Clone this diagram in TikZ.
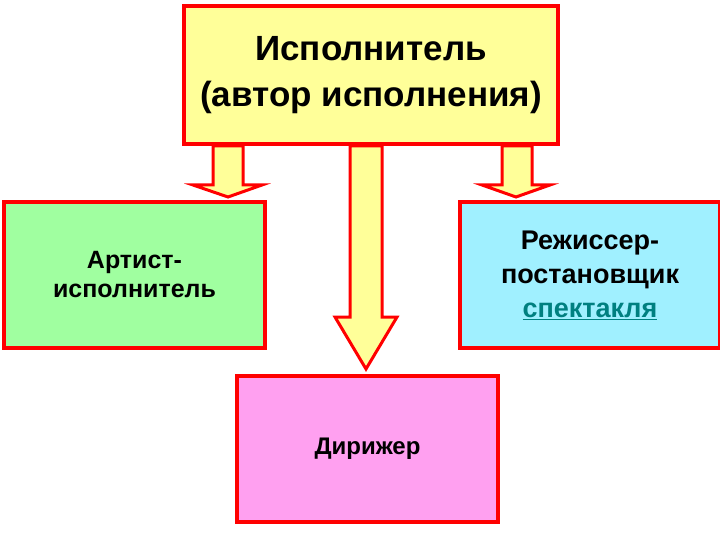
\documentclass[tikz,border=0pt]{standalone}
\usepackage{fontspec}
\setmainfont{Liberation Sans}
\begin{document}
\begin{tikzpicture}[x=1pt,y=-1pt,
  boxst/.style={draw=red,line width=4pt},
  arrst/.style={draw=red,line width=3pt,line join=miter}]
\useasboundingbox (0,0) rectangle (720,540);
\definecolor{cy}{HTML}{FFFF99}
\definecolor{cg}{HTML}{A0FFA0}
\definecolor{cb}{HTML}{A0F0FF}
\definecolor{cp}{HTML}{FFA0F0}
\definecolor{teal2}{HTML}{008080}
% arrows
\draw[arrst,fill=cy] (213,146) -- (243,146) -- (243,185) -- (262,185) -- (228,197) -- (193,185) -- (213,185) -- cycle;
\draw[arrst,fill=cy] (502,146) -- (532,146) -- (532,185) -- (550,185) -- (516,197) -- (482,185) -- (502,185) -- cycle;
\draw[arrst,fill=cy] (350,146) -- (382,146) -- (382,317) -- (397,317) -- (366,369) -- (335,317) -- (350,317) -- cycle;
% boxes
\node[boxst,fill=cy,minimum width=374pt,minimum height=138pt,anchor=north west,align=center,font=\fontsize{35}{46}\selectfont\bfseries] (top) at (182,4) {Исполнитель\\(автор исполнения)};
\node[boxst,fill=cg,minimum width=261pt,minimum height=146pt,anchor=north west,align=center,font=\fontsize{25}{29}\selectfont\bfseries] (left) at (2,200) {Артист-\\исполнитель};
\node[boxst,fill=cb,minimum width=260pt,minimum height=146pt,anchor=north west,align=center,font=\fontsize{27}{34}\selectfont\bfseries] (right) at (458,200) {Режиссер-\\постановщик\\\textcolor{teal2}{\underline{спектакля}}};
\node[boxst,fill=cp,minimum width=261pt,minimum height=146pt,anchor=north west,align=center,font=\fontsize{24}{29}\selectfont\bfseries] (bot) at (235,374) {Дирижер};
\end{tikzpicture}
\end{document}
